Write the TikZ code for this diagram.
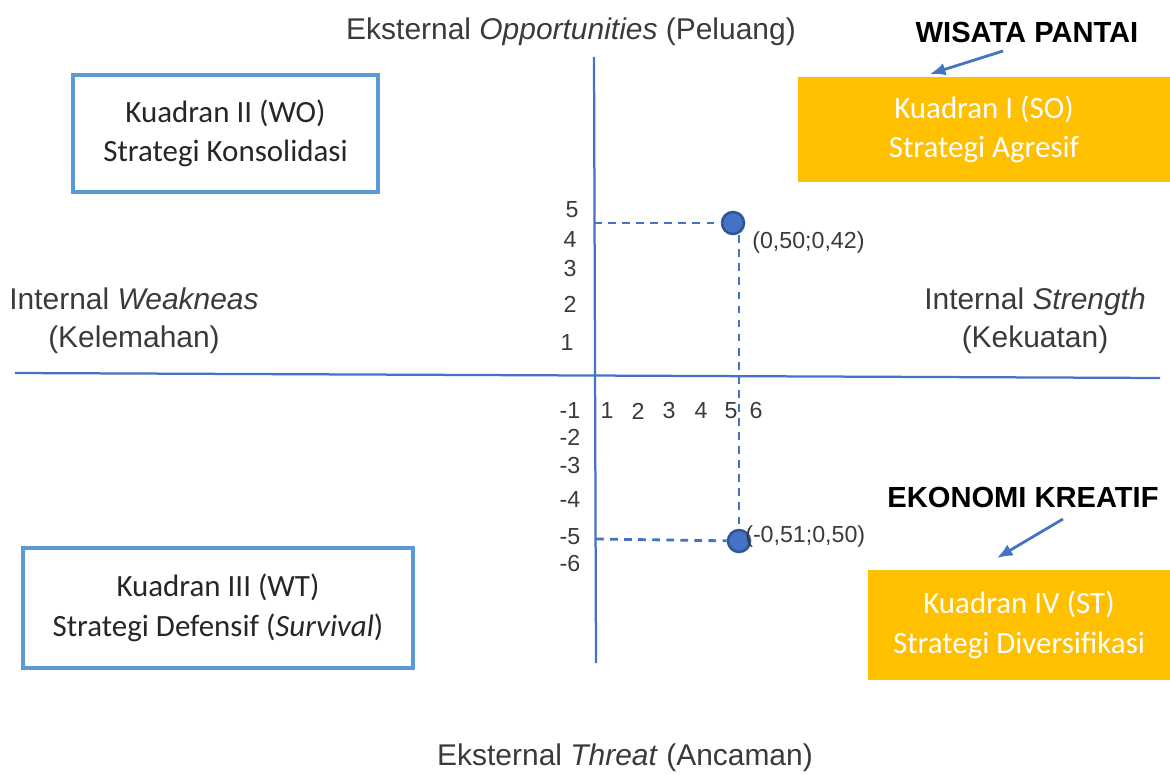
\documentclass[tikz,border=0pt]{standalone}
\usepackage{fontspec}
\setmainfont{Liberation Sans}
\newfontfamily\boxfont{Carlito}
\usetikzlibrary{arrows.meta}
\usetikzlibrary{positioning}
\definecolor{axisBlue}{HTML}{4472C4}
\definecolor{frameBlue}{HTML}{5B9BD5}
\definecolor{pointEdge}{HTML}{2F5597}
\definecolor{gold}{HTML}{FFC000}
\definecolor{inkGray}{HTML}{3A3A3A}

\begin{document}
\begin{tikzpicture}[x=0.025cm,y=-0.025cm]
\tikzset{
    quadBox/.style={
                   draw=frameBlue,
                   line width=2.8pt,
                   align=center,
                   inner sep=0pt,
                   font=\boxfont\fontsize{22}{28}\selectfont,
                   text=black!85
    },
    goldBox/.style={
                   fill=gold,
                   align=center,
                   inner sep=0pt,
                   font=\boxfont\fontsize{22}{28}\selectfont,
                   text=white
    },
    axisLabel/.style={
                   align=center,
                   inner sep=0pt,
                   text=inkGray,
                   font=\fontsize{21.3}{27}\selectfont
    },
    tickLabel/.style={
                   inner sep=0pt,
                   text=inkGray,
                   font=\fontsize{16.5}{18}\selectfont
    },
    tagLabel/.style={
                   inner sep=0pt,
                   font=\bfseries\fontsize{20.7}{24}\selectfont
    },
    dot/.style={
                   circle,
                   fill=axisBlue,
                   draw=pointEdge,
                   line width=1.8pt,
                   minimum size=0.55cm,
                   inner sep=0pt
    },
    guide/.style={
                   axisBlue,
                   line width=2pt,
                   dash pattern=on 5.5pt off 4.5pt
    },
    pointer/.style={
                   ->,
                   axisBlue,
                   line width=2pt,
                   >={Latex[length=11pt,width=9pt]}
    }
}
    \useasboundingbox (0,0) rectangle (1170,775);

    % axes
    \coordinate (xL) at (15,373);
    \coordinate (xR) at (1160,378);
    \coordinate (yT) at (594,57);
    \coordinate (yB) at (596,663);
    \draw[axisBlue, line width=1.6pt] (xL) -- (xR);
    \draw[axisBlue, line width=1.6pt] (yT) -- (yB);

    % quadrants
    \node (K2)[quadBox, minimum width=7.6cm, minimum height=2.93cm] at (225.5,133.5)
        {Kuadran II (WO)\\Strategi Konsolidasi};
    \node (K3)[quadBox, minimum width=9.75cm, minimum height=3.0cm] at (218,608)
        {Kuadran III (WT)\\Strategi Defensif (\textit{Survival})};
    \node (K1)[goldBox, minimum width=9.3cm, minimum height=2.63cm] at (984,129.5)
        {Kuadran I (SO)\\Strategi Agresif};
    \node (K4)[goldBox, minimum width=7.55cm, minimum height=2.75cm] at (1019,625)
        {Kuadran IV (ST)\\Strategi Diversifikasi};

    % axis captions
    \node (opp)[axisLabel] at (571,32) {Eksternal \textit{Opportunities} (Peluang)};
    \node (thr)[axisLabel] at (625,758) {Eksternal \textit{Threat} (Ancaman)};
    \node (weak)[axisLabel] at (134,321) {Internal \textit{Weakneas}\\(Kelemahan)};
    \node (str)[axisLabel] at (1035,321) {Internal \textit{Strength}\\(Kekuatan)};

    % ticks
    \node (y5)[tickLabel] at (572,210) {5};
    \node (y4)[tickLabel] at (570,240) {4};
    \node (y3)[tickLabel] at (570,269) {3};
    \node (y2)[tickLabel] at (570,304) {2};
    \node (y1)[tickLabel] at (567,343) {1};
    \node (ym1)[tickLabel] at (570,411) {-1};
    \node (ym2)[tickLabel] at (570,437) {-2};
    \node (ym3)[tickLabel] at (570,466) {-3};
    \node (ym4)[tickLabel] at (570,500) {-4};
    \node (ym5)[tickLabel] at (570,537) {-5};
    \node (ym6)[tickLabel] at (570,564) {-6};
    \node (x1)[tickLabel] at (607,411) {1};
    \node (x2)[tickLabel] at (638,411) {2};
    \node (x3)[tickLabel] at (669,411) {3};
    \node (x4)[tickLabel] at (701,411) {4};
    \node (x5)[tickLabel] at (731,411) {5};
    \node (x6)[tickLabel] at (756,411) {6};

    % points
    \coordinate (h1) at (594,223);
    \coordinate (h2) at (596,539);
    \node (P1)[dot] at (733,223) {};
    \node (P2)[dot] at (739,541) {};
    \draw[guide] (h1) -- (P1);
    \draw[guide] (h2) -- (P2);
    \draw[guide] (P1.south -| P2) -- (P2);
    \node (v1)[tickLabel, anchor=west] at (752,242) {(0,50;0,42)};
    \node (v2)[tickLabel, anchor=west] at (745,536) {(-0,51;0,50)};

    % tags
    \node (wp)[tagLabel] at (1027,32) {WISATA PANTAI};
    \node (ek)[tagLabel] at (1023,497) {EKONOMI KREATIF};
    \coordinate (wpA) at (1003,51);
    \coordinate (wpB) at (930,74);
    \coordinate (ekA) at (1063,519);
    \coordinate (ekB) at (997,558);
    \draw[pointer] (wpA) -- (wpB);
    \draw[pointer] (ekA) -- (ekB);

\end{tikzpicture}
\end{document}
